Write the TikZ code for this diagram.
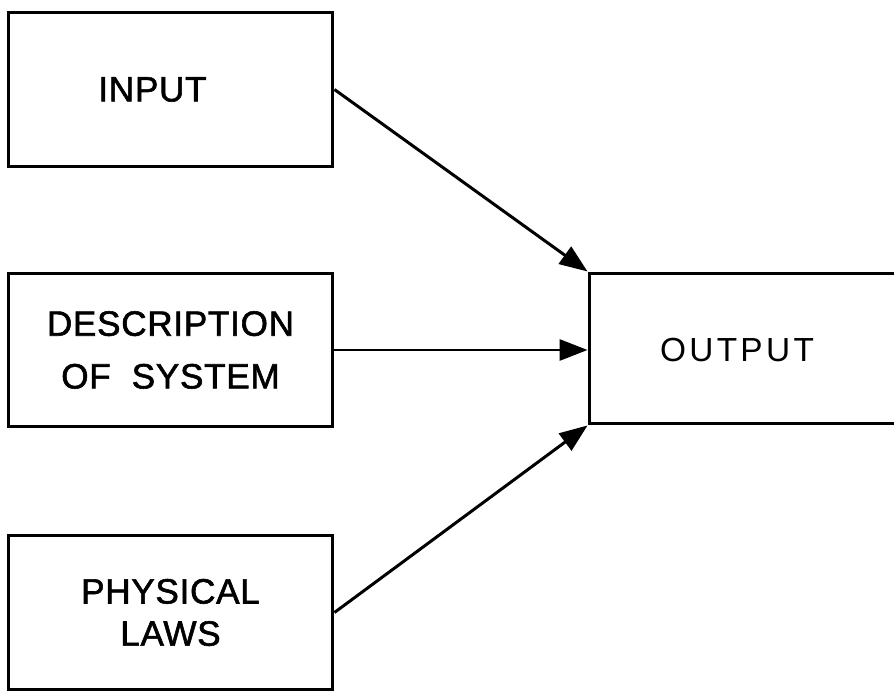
\documentclass[tikz,border=0pt]{standalone}
\usepackage{fontspec}
\setmainfont{Liberation Sans}[FakeBold=1.2]
\newfontfamily\boxfont[FakeBold=1.6,LetterSpace=2]{Liberation Sans}
\newfontfamily\widefont[LetterSpace=10]{Liberation Sans}
\usetikzlibrary{arrows.meta,positioning}
\tikzset{
  inbox/.style={draw,line width=1.7pt,minimum width=6.5cm,minimum height=3.08cm,
    align=center,inner sep=2pt,font=\fontsize{20}{30}\selectfont\boxfont},
  outbox/.style={inbox,minimum width=6.8cm,minimum height=3.02cm},
  outlabel/.style={font=\fontsize{19}{24}\selectfont\widefont},
  flow/.style={-{Triangle[length=0.56cm,width=0.42cm]},line width=1.7pt}
}
\begin{document}
\begin{tikzpicture}[x=0.02cm,y=-0.02cm]
  \useasboundingbox (0,0) rectangle (894,692);
  \clip (0,0) rectangle (894,692);
  % inputs
  \node[inbox] (inp) at (170.5,89.5) {INPUT\hspace*{0.72cm}};
  \node[inbox] (desc) at (170.5,350) {DESCRIPTION\\OF\ \ SYSTEM};
  \node[inbox,font=\fontsize{20}{24}\selectfont\boxfont] (phys) at (170.5,612.5) {PHYSICAL\\LAWS};
  % output, open towards the right edge
  \node[outbox,label={[outlabel,xshift=-0.44cm,yshift=-0.04cm]center:OUTPUT}] (out) at (759,348.5) {};
  \draw[flow] (inp.east) -- (out.north west);
  \draw[flow] (desc.east) -- (desc.east -| out.west);
  \draw[flow] (phys.east) -- (out.south west);
\end{tikzpicture}
\end{document}
